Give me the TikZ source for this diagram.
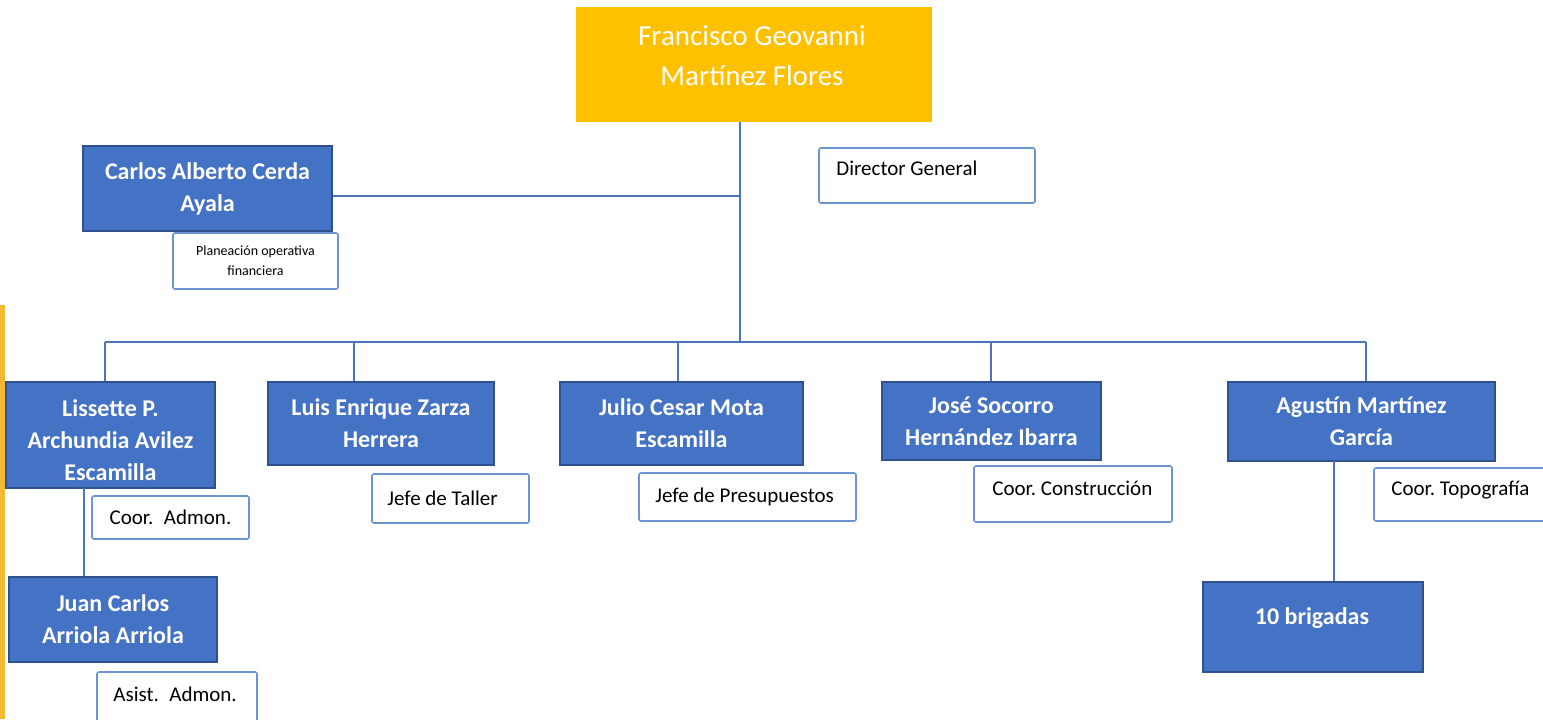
\documentclass[tikz,border=0pt]{standalone}
\usepackage{fontspec}
\setmainfont{Carlito}
\frenchspacing
\definecolor{boxblue}{HTML}{4472C4}
\definecolor{boxdark}{HTML}{2F528F}
\definecolor{lblblue}{HTML}{6A95D2}
\definecolor{lineblue}{HTML}{4A73C0}
\definecolor{topyellow}{HTML}{FFC000}
\definecolor{baryellow}{HTML}{F4B932}
\begin{document}
\begin{tikzpicture}[x=0.5pt,y=-0.5pt,
  bluebox/.style={draw=boxdark, fill=boxblue, line width=1pt, text=white,
    font=\bfseries\fontsize{12}{16}\selectfont, align=center, inner sep=0pt},
  bluetext/.style={text=white, font=\bfseries\fontsize{12}{16}\selectfont, align=center, inner sep=0pt},
  topbox/.style={fill=topyellow, inner sep=0pt},
  toptext/.style={text=white, font=\fontsize{14.5}{20}\selectfont, align=center, inner sep=0pt},
  labelbox/.style={draw=lblblue, fill=white, line width=0.8pt, rounded corners=1pt, inner sep=0pt, align=center},
  lbltext/.style={font=\fontsize{10.5}{13}\selectfont, inner sep=0pt, anchor=west},
  conn/.style={draw=lineblue, line width=1pt}]
\useasboundingbox (0,0) rectangle (1543,719);

% left yellow bar
\node[fill=baryellow, inner sep=0pt, minimum width=2.5pt, minimum height=207pt, anchor=north west] (bar) at (0,305) {};

% top box
\node[topbox, minimum width=178pt, minimum height=57.5pt] (top) at (754,64.5) {};
\node[toptext] (toptxt) at (752,56) {Francisco Geovanni\\Martínez Flores};

% second level
\node[bluebox, minimum width=124.5pt, minimum height=42.5pt] (carlos) at (207.5,188.5) {Carlos Alberto Cerda\\Ayala};
\node[labelbox, minimum width=82.5pt, minimum height=28pt, font=\fontsize{7}{10}\selectfont] (plan) at (255.5,261) {Planeación operativa\\financiera};
\node[labelbox, minimum width=108pt, minimum height=27.5pt] (dir) at (927,175.5) {};
\node[lbltext] (dirtxt) at (836,168) {Director General};

% third level
\node[bluebox, minimum width=104.5pt, minimum height=53pt] (lis) at (110.5,435) {};
\node[bluetext] (listxt) at (110.5,440) {Lissette P.\\Archundia Avilez\\Escamilla};
\node[bluebox, minimum width=113pt, minimum height=41.5pt] (luis) at (381,423.5) {Luis Enrique Zarza\\Herrera};
\node[bluebox, minimum width=121.5pt, minimum height=41.5pt] (julio) at (681.5,423.5) {Julio Cesar Mota\\Escamilla};
\node[bluebox, minimum width=109.5pt, minimum height=39pt] (jose) at (991.5,421) {José Socorro\\Hernández Ibarra};
\node[bluebox, minimum width=133.5pt, minimum height=39.5pt] (agus) at (1361.5,421.5) {Agustín Martínez\\García};

\node[labelbox, minimum width=78.5pt, minimum height=21.5pt, font=\fontsize{10.5}{13}\selectfont] (cadm) at (170.5,517.5) {Coor.\hspace{0.5em}Admon.};
\node[labelbox, minimum width=78.5pt, minimum height=24.5pt] (taller) at (450.5,498.5) {};
\node[lbltext] (tallertxt) at (387,498) {Jefe de Taller};
\node[labelbox, minimum width=108.5pt, minimum height=24pt] (presup) at (747.5,497) {};
\node[lbltext] (presuptxt) at (655,497) {Jefe de Presupuestos};
\node[labelbox, minimum width=99pt, minimum height=28pt] (constr) at (1073,494) {};
\node[lbltext] (constrtxt) at (992,488) {Coor. Construcción};
\node[labelbox, minimum width=93pt, minimum height=26.5pt] (topo) at (1467,494.5) {};
\node[lbltext] (topotxt) at (1391,490) {Coor. Topografía};

% fourth level
\node[bluebox, minimum width=104pt, minimum height=42.5pt] (juan) at (113,619.5) {Juan Carlos\\Arriola Arriola};
\node[labelbox, minimum width=80pt, minimum height=29pt] (asist) at (177,701) {};
\node[lbltext] (asisttxt) at (113,694) {Asist.\hspace{0.5em}Admon.};
\node[bluebox, minimum width=110pt, minimum height=45pt] (brig) at (1313,627) {};
\node[bluetext] (brigtxt) at (1312,618) {10 brigadas};

% junction coordinates
\coordinate (jmain) at (740,342);
\coordinate (jcar) at (740,196);
\coordinate (dlis) at (105,342);
\coordinate (dluis) at (354,342);
\coordinate (djulio) at (678,342);
\coordinate (djose) at (991,342);
\coordinate (dagus) at (1366,342);
\coordinate (ljuan) at (84,488);
\coordinate (lbrig) at (1334,461);

% connectors
\draw[conn] (top.south -| jmain) -- (jmain);
\draw[conn] (carlos.east |- jcar) -- (jcar);
\draw[conn] (dlis) -- (dagus);
\draw[conn] (dlis) -- (dlis |- lis.north);
\draw[conn] (dluis) -- (dluis |- luis.north);
\draw[conn] (djulio) -- (djulio |- julio.north);
\draw[conn] (djose) -- (djose |- jose.north);
\draw[conn] (dagus) -- (dagus |- agus.north);
\draw[conn] (ljuan) -- (ljuan |- juan.north);
\draw[conn] (lbrig) -- (lbrig |- brig.north);
\end{tikzpicture}
\end{document}
